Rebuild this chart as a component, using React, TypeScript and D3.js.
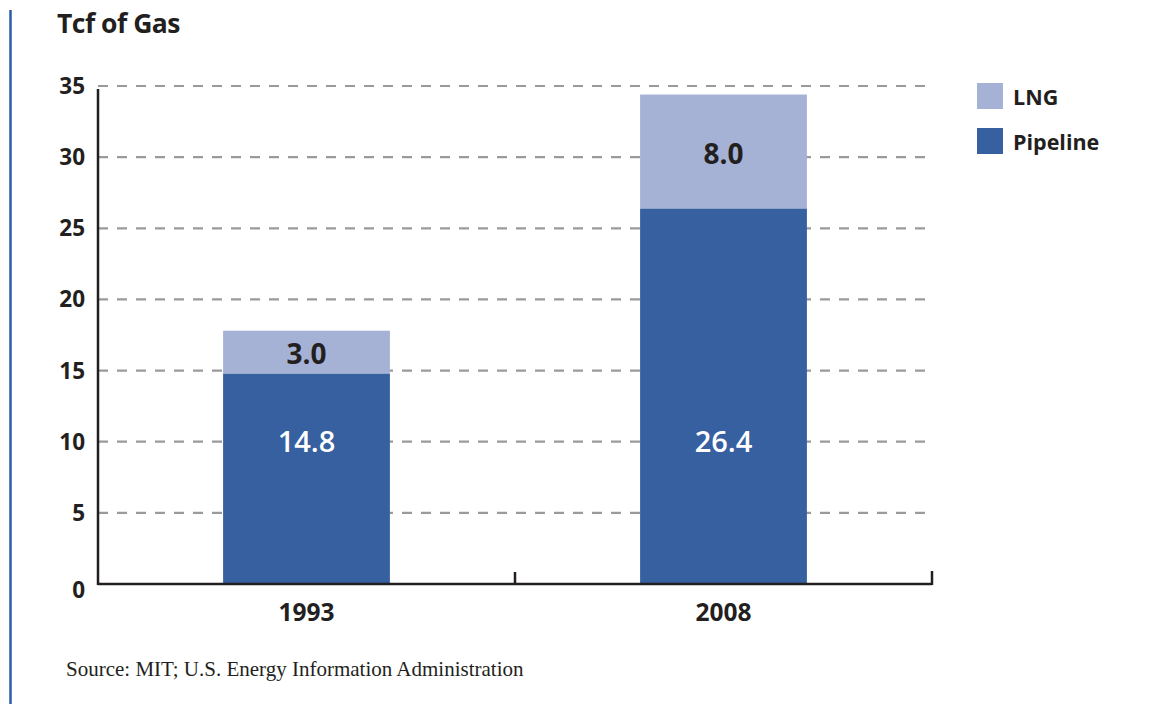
import React from "react";
import * as d3 from "d3";

const years = ["1993", "2008"];
const pipeline = [14.8, 26.4];
const lng = [3.0, 8.0];
const yTicks = [0, 5, 10, 15, 20, 25, 30, 35];
const seriesNames = ["LNG", "Pipeline"];
const seriesColors = ["#a5b2d5", "#3660a0"];
const title = "Tcf of Gas";
const source = "Source: MIT; U.S. Energy Information Administration";

const W = 1161, H = 704;
const left = 98, right = 932, top = 86, bottom = 584;
const font = "'Open Sans', 'Noto Sans', sans-serif";

export default function App() {
  const x = d3.scaleBand<string>().domain(years).range([left, right]).paddingInner(0.6).paddingOuter(0.3);
  const y = d3.scaleLinear().domain([0, 35]).range([bottom, top]);
  const bw = x.bandwidth();
  const stacked = years.map((yr, i) => ({ yr, p: pipeline[i], l: lng[i] }));
  const midTick = (left + right) / 2;
  return (
    <svg width={W} height={H} style={{ position: "absolute", left: 0, top: 0, background: "#fff" }}>
      <line x1={10.5} x2={10.5} y1={10} y2={H} stroke="#2a5ca8" strokeWidth={2.5} />
      <text x={57} y={33} fontFamily={font} fontWeight={700} fontSize={26.5} fill="#231f20" letterSpacing={-0.5}>{title}</text>
      {yTicks.filter(t => t > 0).map(t => (
        <line key={t} x1={left} x2={right + 2} y1={y(t)} y2={y(t)} stroke="#9a9a9c" strokeWidth={2.2} strokeDasharray="10 9" />
      ))}
      {stacked.map(d => (
        <g key={d.yr}>
          <rect x={x(d.yr)} y={y(d.p)} width={bw} height={y(0) - y(d.p)} fill={seriesColors[1]} />
          <rect x={x(d.yr)} y={y(d.p + d.l)} width={bw} height={y(d.p) - y(d.p + d.l)} fill={seriesColors[0]} />
          <text x={x(d.yr)! + bw / 2} y={y(10)} dy="0.36em" textAnchor="middle" fontFamily={font} fontWeight={600} fontSize={29} fill="#fff">{d.p.toFixed(1)}</text>
          <text x={x(d.yr)! + bw / 2} y={(y(d.p) + y(d.p + d.l)) / 2 + 2} dy="0.36em" textAnchor="middle" fontFamily={font} fontWeight={700} fontSize={28} fill="#231f20">{d.l.toFixed(1)}</text>
          <text x={x(d.yr)! + bw / 2} y={621} textAnchor="middle" fontFamily={font} fontWeight={700} fontSize={24.5} fill="#231f20">{d.yr}</text>
        </g>
      ))}
      <line x1={left} x2={left} y1={89} y2={bottom + 1} stroke="#231f20" strokeWidth={2.5} />
      <line x1={left} x2={right} y1={bottom} y2={bottom} stroke="#231f20" strokeWidth={2.5} />
      <line x1={midTick} x2={midTick} y1={bottom} y2={bottom - 12} stroke="#231f20" strokeWidth={2.5} />
      <line x1={right} x2={right} y1={bottom + 1} y2={bottom - 13} stroke="#231f20" strokeWidth={2.5} />
      {yTicks.map(t => (
        <text key={t} x={85} y={y(t) + (t === 0 ? 14 : 8)} textAnchor="end" fontFamily={font} fontWeight={700} fontSize={22.5} fill="#231f20">{t}</text>
      ))}
      {seriesNames.map((n, i) => (
        <g key={n}>
          <rect x={977} y={83 + i * 45} width={26} height={26} fill={seriesColors[i]} />
          <text x={1013} y={105 + i * 45} fontFamily={font} fontWeight={700} fontSize={21.5} fill="#231f20">{n}</text>
        </g>
      ))}
      <text x={66} y={676} fontFamily="'Liberation Serif', 'Times New Roman', serif" fontSize={21} fill="#231f20">{source}</text>
    </svg>
  );
}
